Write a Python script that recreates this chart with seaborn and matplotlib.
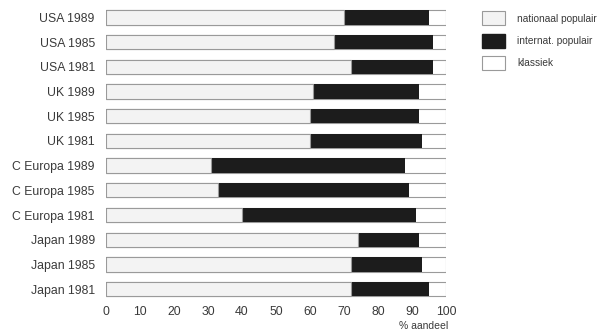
import pandas as pd
import numpy as np
import seaborn as sns
from matplotlib import pyplot as plt
from matplotlib.patches import Patch

# data (% share per repertoire)
labels = ['USA 1989', 'USA 1985', 'USA 1981',
          'UK 1989', 'UK 1985', 'UK 1981',
          'C Europa 1989', 'C Europa 1985', 'C Europa 1981',
          'Japan 1989', 'Japan 1985', 'Japan 1981']
nationaal = [70, 67, 72, 61, 60, 60, 31, 33, 40, 74, 72, 72]
internat = [25, 29, 24, 31, 32, 33, 57, 56, 51, 18, 21, 23]
klassiek = [5, 4, 4, 8, 8, 7, 12, 11, 9, 8, 7, 5]

df = pd.DataFrame({'label': labels, 'nat': nationaal, 'int': internat, 'kl': klassiek})
df['c_nat'] = df['nat']
df['c_int'] = df['nat'] + df['int']
df['c_kl'] = df['nat'] + df['int'] + df['kl']

sns.set_style('white')
plt.rcParams['font.family'] = ['Liberation Sans', 'DejaVu Sans']

fig = plt.figure(figsize=(6.12, 3.35), dpi=100)
ax = fig.add_axes([0.173, 0.10, 0.556, 0.885])

col_nat = '#f3f3f3'
col_int = '#1c1c1c'
col_kl = '#ffffff'
edge = '#9a9a9a'
txt = '#3a3a3a'

# stacked bars: draw cumulative totals from largest to smallest
sns.barplot(data=df, y='label', x='c_kl', color=col_kl, orient='h', width=0.58,
            edgecolor=edge, linewidth=0.8, ax=ax)
sns.barplot(data=df, y='label', x='c_int', color=col_int, orient='h', width=0.58,
            edgecolor=col_int, linewidth=0, ax=ax)
sns.barplot(data=df, y='label', x='c_nat', color=col_nat, orient='h', width=0.58,
            edgecolor=edge, linewidth=0.8, ax=ax)

ax.set_xlim(0, 100)
ax.set_ylim(11.5, -0.5)
ax.set_xticks(np.arange(0, 101, 10))
ax.tick_params(axis='both', length=0, labelsize=8.8, colors=txt)
ax.tick_params(axis='y', pad=8)
ax.tick_params(axis='x', pad=3)
ax.set_ylabel('')
ax.set_xlabel('')
for s in ax.spines.values():
    s.set_visible(False)

fig.text(0.732, 0.012, '% aandeel', ha='right', va='bottom', fontsize=7.5, color=txt)

handles = [Patch(facecolor=col_nat, edgecolor=edge, linewidth=0.8),
           Patch(facecolor=col_int, edgecolor=col_int),
           Patch(facecolor=col_kl, edgecolor=edge, linewidth=0.8)]
fig.legend(handles, ['nationaal populair', 'internat. populair', 'klassiek'],
           loc='upper left', bbox_to_anchor=(0.7876, 0.966), frameon=False,
           borderaxespad=0, borderpad=0,
           fontsize=7.3, handlelength=2.3, handleheight=1.75, labelspacing=0.8,
           handletextpad=1.2, labelcolor=txt)

fig.savefig('out.png', dpi=100)
